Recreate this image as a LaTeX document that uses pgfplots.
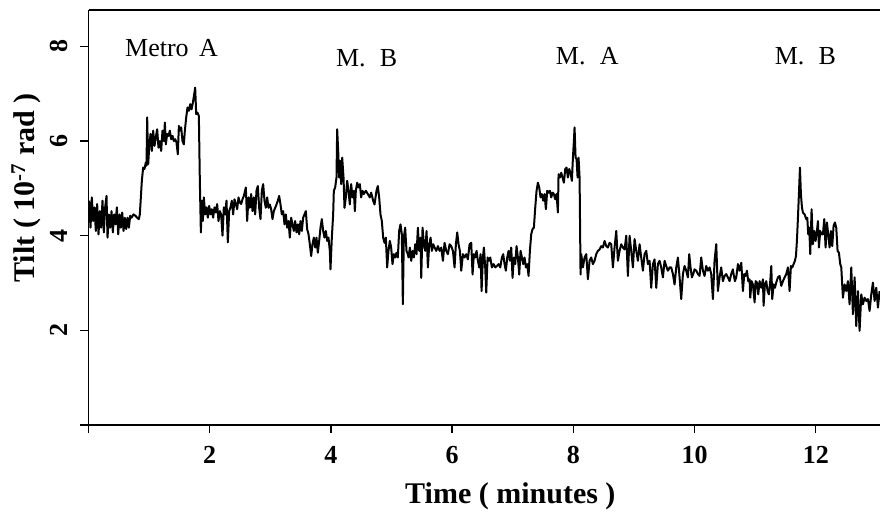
\documentclass[border=0pt]{standalone}
\usepackage{fontspec}
\setmainfont{Liberation Serif}
\usepackage{pgfplots}
\pgfplotsset{compat=1.18}
\pgfplotstableread{
t y
0.011 4.74
0.033 4.17
0.055 4.81
0.077 4.31
0.099 4.60
0.121 4.10
0.143 4.67
0.165 4.03
0.187 4.52
0.209 4.17
0.231 4.74
0.253 4.07
0.275 4.60
0.297 4.84
0.314 3.96
0.336 4.45
0.358 4.17
0.380 4.52
0.402 4.07
0.424 4.45
0.446 4.24
0.468 4.60
0.490 4.03
0.512 4.45
0.534 4.17
0.556 4.49
0.578 4.10
0.600 4.38
0.622 4.14
0.644 4.38
0.666 4.17
0.688 4.42
0.710 4.38
0.743 4.45
0.776 4.42
0.803 4.38
0.831 4.35
0.847 4.45
0.880 5.16
0.902 5.44
0.924 5.41
0.946 5.55
0.957 5.48
0.968 6.50
0.985 5.51
1.001 5.86
1.023 6.15
1.045 5.79
1.067 6.22
1.089 5.90
1.111 6.08
1.133 6.25
1.155 5.86
1.177 6.00
1.199 5.79
1.221 6.22
1.243 6.00
1.260 6.39
1.276 5.93
1.298 6.15
1.320 6.11
1.342 6.22
1.364 6.04
1.386 6.11
1.408 6.00
1.430 6.04
1.452 5.97
1.474 5.72
1.491 6.32
1.507 6.22
1.529 6.29
1.551 6.00
1.573 5.93
1.590 6.22
1.612 6.50
1.634 6.71
1.656 6.64
1.678 6.78
1.700 6.67
1.722 6.81
1.744 6.99
1.760 7.13
1.777 6.57
1.799 6.60
1.821 6.53
1.837 5.16
1.854 4.07
1.870 4.74
1.887 4.31
1.903 4.81
1.925 4.45
1.947 4.60
1.969 4.38
1.991 4.63
2.013 4.45
2.035 4.56
2.057 4.38
2.079 4.60
2.101 4.49
2.123 4.67
2.145 4.31
2.167 4.52
2.189 4.45
2.211 4.00
2.233 4.60
2.255 4.45
2.277 4.74
2.299 3.86
2.321 4.52
2.343 4.60
2.365 4.74
2.387 4.45
2.409 4.77
2.431 4.67
2.453 4.56
2.475 4.81
2.497 4.70
2.519 4.67
2.541 4.77
2.563 4.84
2.596 5.02
2.618 4.31
2.640 4.81
2.662 4.59
2.684 4.88
2.706 4.52
2.728 4.81
2.750 4.45
2.772 4.95
2.794 5.05
2.816 4.59
2.838 4.35
2.860 4.95
2.882 5.09
2.904 4.74
2.926 4.59
2.948 4.81
2.970 4.59
2.992 4.66
3.014 4.56
3.036 4.35
3.058 4.52
3.080 4.59
3.102 4.66
3.124 4.74
3.146 4.84
3.168 4.66
3.190 4.45
3.212 4.52
3.234 4.24
3.256 4.45
3.278 4.17
3.300 4.31
3.322 3.96
3.344 4.38
3.366 4.24
3.388 4.10
3.410 4.31
3.432 4.07
3.454 4.24
3.476 4.03
3.498 4.31
3.520 4.10
3.542 4.38
3.564 4.45
3.586 4.52
3.608 4.14
3.630 4.03
3.652 3.82
3.674 3.57
3.696 3.82
3.718 3.96
3.740 3.75
3.762 3.96
3.784 3.64
3.806 3.89
3.828 4.17
3.850 4.35
3.872 4.10
3.894 3.96
3.916 4.10
3.938 3.89
3.960 3.96
3.982 3.68
3.993 3.29
4.015 3.96
4.037 4.45
4.048 4.95
4.070 5.02
4.092 5.23
4.103 6.25
4.120 5.79
4.136 5.23
4.153 5.58
4.169 5.09
4.186 5.65
4.208 5.23
4.224 4.59
4.246 4.81
4.268 5.16
4.290 4.95
4.312 4.66
4.334 5.09
4.356 4.81
4.378 4.95
4.395 4.52
4.411 4.95
4.433 5.12
4.455 5.02
4.477 5.09
4.499 4.81
4.521 4.95
4.543 4.88
4.576 4.95
4.609 4.88
4.642 4.81
4.664 4.91
4.697 4.74
4.719 4.66
4.752 4.95
4.774 5.05
4.796 4.81
4.818 4.45
4.840 4.31
4.862 3.96
4.884 3.85
4.906 3.96
4.928 3.33
4.950 3.68
4.972 3.89
4.994 3.75
5.016 3.40
5.038 3.61
5.060 3.54
5.082 3.64
5.104 3.54
5.126 4.10
5.148 4.24
5.170 4.03
5.187 2.55
5.203 3.96
5.225 4.17
5.247 3.68
5.269 3.61
5.281 3.54
5.303 3.75
5.325 3.47
5.347 3.68
5.369 3.54
5.391 3.82
5.413 3.61
5.435 4.17
5.457 3.68
5.479 3.96
5.490 3.11
5.512 4.17
5.534 3.82
5.556 3.68
5.578 4.10
5.600 3.33
5.622 3.82
5.644 3.96
5.666 3.68
5.688 3.82
5.710 3.75
5.738 3.68
5.765 3.78
5.793 3.68
5.820 3.75
5.848 3.47
5.875 3.85
5.903 3.68
5.930 3.61
5.958 3.82
5.985 3.78
6.013 3.68
6.040 3.33
6.062 3.82
6.084 4.07
6.106 3.82
6.128 3.68
6.150 3.26
6.178 3.61
6.205 3.54
6.233 3.61
6.260 3.50
6.288 3.82
6.315 3.85
6.337 3.18
6.359 3.61
6.381 3.54
6.403 3.68
6.425 3.47
6.447 3.33
6.469 3.61
6.486 2.83
6.508 3.54
6.524 3.75
6.546 3.33
6.563 2.80
6.585 3.54
6.607 3.47
6.629 3.54
6.656 3.33
6.684 3.40
6.711 3.33
6.739 3.36
6.766 3.40
6.794 3.33
6.821 3.54
6.843 3.61
6.865 3.40
6.887 3.26
6.909 3.54
6.931 3.68
6.953 3.47
6.975 3.75
6.997 3.11
7.019 3.54
7.041 3.40
7.063 3.78
7.085 3.54
7.107 3.18
7.129 3.68
7.151 3.54
7.173 3.40
7.195 3.54
7.217 3.33
7.239 3.40
7.261 3.15
7.283 3.68
7.305 4.03
7.327 4.14
7.349 4.17
7.371 4.59
7.393 4.95
7.415 5.12
7.437 5.02
7.459 4.81
7.481 4.88
7.503 4.74
7.525 4.88
7.547 4.56
7.569 4.95
7.591 4.91
7.613 4.95
7.635 4.81
7.657 4.91
7.679 4.88
7.701 4.77
7.723 4.88
7.745 4.49
7.756 5.30
7.778 5.23
7.800 5.33
7.822 5.23
7.844 5.12
7.866 5.41
7.888 5.44
7.910 5.23
7.932 5.41
7.954 5.33
7.976 5.16
7.993 5.65
8.009 6.00
8.020 6.29
8.037 5.65
8.053 5.62
8.070 5.23
8.086 5.65
8.103 5.23
8.119 3.18
8.130 3.61
8.158 3.33
8.185 3.54
8.213 3.61
8.240 3.08
8.268 3.47
8.295 3.54
8.323 3.40
8.350 3.47
8.378 3.61
8.405 3.68
8.433 3.71
8.460 3.78
8.488 3.75
8.515 3.89
8.543 3.78
8.570 3.75
8.598 3.85
8.625 3.82
8.653 3.33
8.680 3.75
8.708 4.10
8.735 3.47
8.763 3.68
8.790 3.82
8.818 3.75
8.845 3.71
8.873 4.00
8.900 3.15
8.928 4.00
8.955 3.68
8.983 3.33
9.010 3.93
9.038 3.68
9.065 3.47
9.093 3.82
9.120 3.54
9.148 3.26
9.175 3.61
9.203 3.68
9.230 3.40
9.258 3.47
9.285 2.90
9.313 3.40
9.340 3.50
9.368 2.90
9.395 3.40
9.423 3.47
9.450 3.33
9.478 3.12
9.505 3.47
9.533 3.36
9.560 3.26
9.588 3.33
9.615 3.33
9.643 3.19
9.670 2.97
9.698 3.33
9.725 3.54
9.753 3.12
9.780 2.66
9.808 3.19
9.835 3.36
9.863 3.26
9.890 3.12
9.912 3.61
9.934 3.33
9.956 3.12
9.978 3.19
10.000 3.29
10.028 3.26
10.055 3.19
10.083 3.15
10.110 3.54
10.138 3.26
10.165 3.15
10.193 3.36
10.220 3.26
10.248 3.33
10.275 3.19
10.303 2.66
10.330 3.47
10.358 3.82
10.385 2.83
10.413 3.12
10.440 3.33
10.468 3.04
10.495 3.15
10.523 3.19
10.550 3.12
10.578 3.04
10.605 3.19
10.633 3.29
10.644 3.19
10.666 3.04
10.688 3.12
10.716 3.40
10.743 3.26
10.771 3.43
10.798 2.83
10.820 3.19
10.842 3.15
10.864 3.26
10.886 3.04
10.908 3.08
10.919 2.69
10.941 3.04
10.963 2.97
10.991 2.59
11.007 3.04
11.029 3.01
11.051 2.76
11.073 3.04
11.101 2.90
11.128 3.08
11.139 2.52
11.161 2.97
11.183 3.04
11.205 2.83
11.227 2.76
11.249 3.04
11.266 3.36
11.282 2.66
11.304 2.97
11.326 2.90
11.348 3.01
11.376 3.12
11.403 3.15
11.431 2.94
11.458 3.04
11.486 3.12
11.513 3.19
11.541 3.33
11.568 2.83
11.590 3.36
11.612 3.33
11.634 3.40
11.656 3.47
11.673 3.57
11.689 3.89
11.706 4.38
11.722 4.88
11.739 5.44
11.755 4.88
11.772 4.60
11.788 4.49
11.816 4.45
11.843 4.35
11.860 4.38
11.876 4.03
11.893 4.17
11.909 3.61
11.931 4.56
11.953 3.82
11.975 4.10
11.997 3.89
12.019 4.10
12.036 4.31
12.052 3.75
12.074 4.10
12.096 4.03
12.118 4.03
12.140 4.35
12.162 3.75
12.184 4.28
12.206 4.03
12.228 3.75
12.250 4.10
12.272 3.78
12.294 4.21
12.316 4.28
12.338 4.17
12.360 3.68
12.382 3.64
12.404 3.40
12.421 3.33
12.448 2.69
12.476 2.97
12.503 2.83
12.531 3.04
12.558 2.55
12.586 3.33
12.613 2.34
12.641 3.12
12.668 2.09
12.696 2.83
12.723 1.99
12.751 2.76
12.778 2.55
12.806 2.69
12.833 2.62
12.861 2.66
12.888 2.41
12.916 2.76
12.943 3.01
12.971 2.62
12.998 2.90
13.026 2.48
13.053 2.83
}\tilt
\begin{document}
\begin{tikzpicture}
\begin{axis}[
  at={(88.5pt,94pt)}, anchor=south west,
  scale only axis, width=791.5pt, height=415pt,
  xmin=0, xmax=13.06, ymin=0, ymax=8.77,
  axis x line=box, axis y line=left,
  x axis line style={-}, y axis line style={-},
  axis line style={line width=1.4pt, black},
  xtick={0,2,4,6,8,10,12}, xticklabels={,2,4,6,8,10,12},
  ytick={0,2,4,6,8}, yticklabels={,2,4,6,8},
  xtick pos=bottom, ytick pos=left,
  tick align=outside, major tick length=8pt,
  tick style={line width=1.4pt, black},
  /pgf/number format/assume math mode=true,
  tick label style={font=\fontsize{26}{30}\selectfont\bfseries},
  yticklabel style={rotate=90, anchor=south, inner sep=13pt},
  xticklabel style={inner sep=13pt},
  xlabel={Time ( minutes )},
  ylabel={Tilt ( 10\textsuperscript{-7} rad )},
  label style={font=\fontsize{30}{34}\selectfont\bfseries},
  xlabel style={at={(axis description cs:0.533,-0.172)}, anchor=center},
  ylabel style={at={(axis description cs:-0.079,0.571)}, anchor=center},
  clip=false,
]
\addplot[black, line width=2pt, line join=round] table[x=t, y=y] {\tilt};
\node[font=\fontsize{26}{30}\selectfont] at (axis cs:1.37,7.97) {Metro\hspace{0.4em}A};
\node[font=\fontsize{26}{30}\selectfont] at (axis cs:4.59,7.76) {M.\hspace{0.55em}B};
\node[font=\fontsize{26}{30}\selectfont] at (axis cs:8.23,7.80) {M.\hspace{0.55em}A};
\node[font=\fontsize{26}{30}\selectfont] at (axis cs:11.83,7.80) {M.\hspace{0.55em}B};
\end{axis}
\pgfresetboundingbox
\useasboundingbox (0,0) rectangle (880pt,519pt);
\end{tikzpicture}
\end{document}
